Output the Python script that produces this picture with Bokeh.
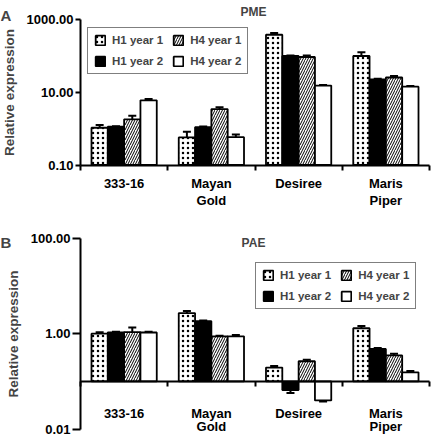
import numpy as np
from bokeh.plotting import figure
from bokeh.models import (Range1d, FixedTicker, PrintfTickFormatter, Whisker, TeeHead,
                          ColumnDataSource, Legend, LegendItem, Label)
from bokeh.layouts import column
from bokeh.embed import file_html
from bokeh.resources import INLINE

categories = ["333-16", "Mayan\nGold", "Desiree", "Maris\nPiper"]
series = ["H1 year 1", "H1 year 2", "H4 year 1", "H4 year 2"]

# PME (panel A)
pme_h1_y1 = [1.05, 0.57, 370.0, 97.0]
pme_h1_y2 = [1.12, 1.09, 97.0, 22.0]
pme_h4_y1 = [1.78, 3.40, 91.0, 25.0]
pme_h4_y2 = [5.90, 0.58, 15.0, 14.0]
pme_h1_y1_err = [0.20, 0.24, 45.0, 25.0]
pme_h1_y2_err = [0.04, 0.05, 3.0, 1.0]
pme_h4_y1_err = [0.45, 0.45, 9.0, 2.5]
pme_h4_y2_err = [0.50, 0.10, 0.5, 0.6]

# PAE (panel B)
pae_h1_y1 = [1.00, 2.70, 0.195, 1.30]
pae_h1_y2 = [1.07, 1.83, 0.066, 0.48]
pae_h4_y1 = [1.08, 0.88, 0.265, 0.35]
pae_h4_y2 = [1.06, 0.88, 0.040, 0.155]
pae_h1_y1_err = [0.07, 0.30, 0.015, 0.15]
pae_h1_y2_err = [0.03, 0.05, 0.009, 0.02]
pae_h4_y1_err = [0.27, 0.03, 0.020, 0.03]
pae_h4_y2_err = [0.04, 0.06, 0.002, 0.01]

pme_ticks = [0.1, 10, 1000]
pae_ticks = [0.01, 1, 100]
BASE = 0.1

FONT = "Liberation Sans"
W = 431
AXIS_X_PX = 80.0      # pixel position of the y axis
UNIT_PX = 87.25       # pixels per category
BW = 0.187            # bar width in category units
styles = [
    dict(fill_color="white", hatch_pattern="dot", hatch_scale=5, hatch_weight=0.9, hatch_color="black"),
    dict(fill_color="black"),
    dict(fill_color="white", hatch_pattern="right_diagonal_line", hatch_scale=5, hatch_weight=1.0, hatch_color="black"),
    dict(fill_color="white"),
]


def log_range(hi, hi_px, lo, lo_px, height):
    ppd = (lo_px - hi_px) / (np.log10(hi) - np.log10(lo))
    top = np.log10(hi) + hi_px / ppd
    bot = np.log10(lo) - (height - lo_px) / ppd
    return Range1d(10 ** bot, 10 ** top)


def make_panel(letter, title, vals, errs, yticks, height, hi_px, lo_px, tick_len,
               ylab_standoff, xlab_standoff, line_h, legend_loc, letter_base_px, title_base_px):
    x_range = Range1d(-AXIS_X_PX / UNIT_PX, (W - AXIS_X_PX) / UNIT_PX)
    y_range = log_range(yticks[-1], hi_px, yticks[0], lo_px, height)
    p = figure(width=W, height=height, x_range=x_range, y_range=y_range,
               y_axis_type="log", title=None, output_backend="svg",
               toolbar_location=None, min_border=0)
    p.outline_line_color = None
    p.xgrid.visible = False
    p.ygrid.visible = False

    idx = np.arange(len(categories)) + 0.5
    items = []
    for j, (name, v, e, st) in enumerate(zip(series, vals, errs, styles)):
        xs = idx + (j - 1.5) * BW
        v = np.array(v)
        e = np.array(e)
        src = ColumnDataSource(dict(x=xs, top=v, upper=v + e, lower=v - e))
        r = p.vbar(x="x", top="top", bottom=BASE, width=BW, source=src,
                   line_color="black", line_width=1.8, **st)
        items.append(LegendItem(label=name, renderers=[r]))
        w = Whisker(base="x", upper="upper", lower="lower", source=src,
                    dimension="height", line_color="black", line_width=2,
                    upper_head=TeeHead(size=8, line_width=2, line_color="black"),
                    lower_head=TeeHead(size=8, line_width=2, line_color="black"))
        p.add_layout(w)

    # x axis (drawn at y = 0.1)
    xa = p.xaxis[0]
    xa.fixed_location = BASE
    xa.bounds = (0, len(categories))
    xa.ticker = FixedTicker(ticks=list(idx), minor_ticks=list(range(len(categories) + 1)))
    xa.major_label_overrides = {float(t): c for t, c in zip(idx, categories)}
    xa.major_tick_line_color = None
    xa.major_tick_out = 0
    xa.major_tick_in = 0
    xa.minor_tick_line_color = "black"
    xa.minor_tick_line_width = 2
    xa.minor_tick_out = 5
    xa.minor_tick_in = 0
    xa.axis_line_width = 2
    xa.major_label_standoff = xlab_standoff
    xa.major_label_text_font = FONT
    xa.major_label_text_font_style = "bold"
    xa.major_label_text_font_size = "13px"
    xa.major_label_text_color = "black"
    xa.major_label_text_line_height = line_h

    # y axis (drawn at x = 0)
    ya = p.yaxis[0]
    ya.fixed_location = 0
    ya.bounds = (yticks[0], yticks[-1])
    ya.ticker = FixedTicker(ticks=yticks, minor_ticks=[])
    ya.formatter = PrintfTickFormatter(format="%.2f")
    ya.major_tick_out = tick_len
    ya.major_tick_in = 0
    ya.major_tick_line_width = 2
    ya.minor_tick_line_color = None
    ya.axis_line_width = 2
    ya.major_label_standoff = 2
    ya.major_label_text_font = FONT
    ya.major_label_text_font_style = "bold"
    ya.major_label_text_font_size = "13px"
    ya.major_label_text_color = "black"
    ya.axis_label = "Relative expression"
    ya.axis_label_text_font = FONT
    ya.axis_label_text_font_style = "bold"
    ya.axis_label_text_font_size = "13.5px"
    ya.axis_label_standoff = ylab_standoff

    legend = Legend(items=items, ncols=2, location=legend_loc,
                    border_line_color="black", border_line_width=1.5,
                    label_text_font=FONT, label_text_font_style="bold",
                    label_text_font_size="11.5px", glyph_width=12, glyph_height=12,
                    label_height=12, spacing=9, padding=6, margin=0,
                    label_standoff=6, background_fill_alpha=1)
    p.add_layout(legend)

    p.add_layout(Label(x=0, y=height - letter_base_px, x_units="screen", y_units="screen",
                       text=letter, text_font=FONT, text_font_style="bold",
                       text_font_size="15px", text_baseline="alphabetic"))
    p.add_layout(Label(x=253, y=height - title_base_px, x_units="screen", y_units="screen",
                       text=title, text_font=FONT, text_font_style="bold",
                       text_font_size="12px", text_align="center",
                       text_baseline="alphabetic"))
    return p


H_TOP = 218
H_BOT = 437 - H_TOP

pA = make_panel("A", "PME",
                [pme_h1_y1, pme_h1_y2, pme_h4_y1, pme_h4_y2],
                [pme_h1_y1_err, pme_h1_y2_err, pme_h4_y1_err, pme_h4_y2_err],
                pme_ticks, H_TOP, 18.5, 164.5, 5, 7, 6, 1.1, (87, H_TOP - 74), 15, 11)
pB = make_panel("B", "PAE",
                [pae_h1_y1, pae_h1_y2, pae_h4_y1, pae_h4_y2],
                [pae_h1_y1_err, pae_h1_y2_err, pae_h4_y1_err, pae_h4_y2_err],
                pae_ticks, H_BOT, 237.7 - H_TOP, 428.7 - H_TOP, 8, 7, 20, 0.85,
                (255, H_BOT - (309 - H_TOP)), 242 - H_TOP, 242 - H_TOP)

layout = column(pA, pB, spacing=0)
open("out.html", "w").write(file_html(layout, INLINE))
